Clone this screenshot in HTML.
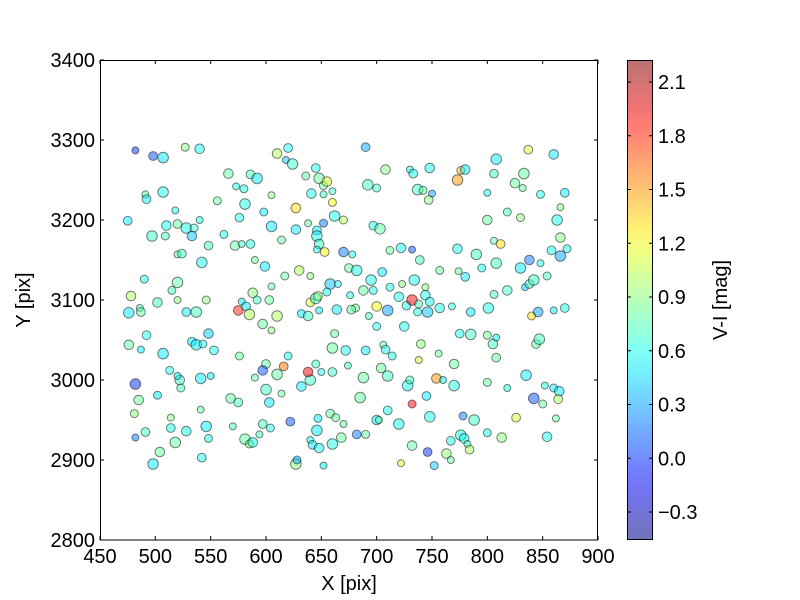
<!DOCTYPE html>
<html><head><meta charset="utf-8"><style>body{margin:0;background:#fff}svg{display:block;font-family:"Liberation Sans",sans-serif}</style></head>
<body><svg id="s" width="800" height="600" xmlns="http://www.w3.org/2000/svg"></svg>
<script>
const P=[[482,3287,0.0],[498,3280,0.1],[507,3278,0.5],[527,3291,0.9],[540,3289,0.6],[491,3232,0.8],[492,3226,0.5],[507,3235,0.6],[556,3224,0.8],[566,3258,0.8],[573,3242,0.6],[586,3257,0.7],[592,3252,0.5],[580,3239,0.6],[610,3283,1.0],[618,3275,0.4],[620,3290,0.6],[624,3270,0.7],[636,3255,0.8],[641,3233,0.6],[652,3232,0.7],[645,3265,0.6],[648,3252,0.8],[652,3243,0.8],[655,3248,1.1],[660,3236,0.7],[690,3291,0.3],[692,3244,0.7],[700,3240,0.7],[708,3263,0.9],[730,3263,0.6],[733,3258,0.6],[737,3238,0.7],[742,3237,0.8],[748,3265,0.6],[750,3233,0.3],[747,3225,0.9],[773,3250,1.5],[776,3262,1.4],[780,3263,0.5],[800,3234,0.6],[806,3258,0.7],[808,3276,0.5],[818,3210,0.7],[825,3246,0.8],[832,3240,0.8],[837,3288,1.1],[833,3258,0.8],[848,3232,0.6],[860,3282,0.5],[866,3216,0.9],[870,3234,0.5],[863,3200,0.6],[660,3222,1.2],[627,3215,1.3],[605,3231,0.9],
[475,3199,0.5],[497,3180,0.7],[509,3180,0.7],[510,3193,0.6],[518,3212,0.6],[520,3195,0.8],[528,3190,0.6],[535,3190,0.7],[533,3180,0.4],[540,3200,0.6],[548,3168,0.7],[542,3147,0.6],[562,3182,0.6],[572,3168,0.8],[578,3170,0.7],[576,3203,0.6],[581,3220,0.6],[598,3210,0.5],[599,3142,0.5],[590,3150,0.8],[586,3170,0.6],[605,3192,0.5],[614,3175,0.8],[627,3188,0.5],[638,3196,0.8],[646,3187,0.5],[646,3180,0.6],[652,3196,0.2],[648,3170,0.7],[646,3163,0.6],[653,3160,1.2],[662,3205,0.6],[670,3200,1.0],[670,3160,0.2],[678,3157,0.6],[697,3193,0.6],[703,3189,0.8],[712,3162,0.8],[722,3165,0.6],[732,3163,0.1],[739,3150,0.7],[734,3125,0.6],[757,3137,0.8],[773,3164,0.6],[774,3136,0.8],[780,3129,0.5],[790,3157,0.7],[795,3140,0.6],[800,3200,0.8],[806,3174,0.8],[812,3170,1.3],[808,3146,0.7],[830,3203,0.9],[838,3150,0.2],[848,3146,0.6],[858,3162,0.6],[866,3155,0.3],[872,3164,0.6],[866,3178,0.9],
[520,3157,0.8],[524,3158,0.7],[520,3122,0.8],[515,3112,0.7],[478,3105,1.0],[486,3090,0.7],[487,3085,0.8],[476,3084,0.5],[490,3126,0.6],[502,3097,0.7],[520,3100,0.9],[528,3085,0.5],[537,3085,0.7],[546,3100,0.9],[575,3087,1.8],[578,3098,0.5],[582,3092,0.5],[585,3082,1.0],[592,3100,0.7],[588,3109,0.9],[605,3117,0.8],[603,3100,0.8],[610,3080,1.0],[617,3130,0.8],[630,3137,1.0],[640,3130,0.9],[640,3097,1.1],[645,3102,0.7],[632,3083,0.5],[638,3080,0.7],[648,3087,0.5],[647,3105,0.9],[658,3120,0.4],[655,3110,0.6],[664,3088,0.5],[665,3120,0.6],[675,3140,0.8],[682,3137,0.6],[681,3090,0.8],[688,3112,0.8],[676,3106,0.6],[677,3088,0.8],[695,3125,0.6],[697,3112,0.6],[700,3092,1.2],[693,3080,0.7],[705,3135,0.5],[710,3087,0.3],[712,3116,0.6],[720,3104,0.6],[723,3120,0.9],[727,3093,0.6],[732,3100,1.9],[738,3095,0.7],[744,3106,0.6],[744,3116,0.9],[748,3098,0.6],[746,3085,0.4],[737,3085,0.6],[757,3090,0.6],[768,3092,0.6],[785,3085,0.5],[801,3090,0.6],[806,3107,0.7],[818,3112,0.7],[834,3116,0.4],[838,3120,0.7],[842,3125,0.7],[840,3080,1.3],[846,3085,0.3],[860,3087,0.5],[870,3090,0.6],[830,3140,0.5],[854,3130,0.7],
[476,3044,0.8],[487,3038,0.5],[492,3056,0.6],[507,3033,0.5],[513,3012,0.6],[522,3000,0.7],[520,3005,0.5],[533,3048,0.5],[537,3044,0.5],[543,3045,0.6],[548,3058,0.4],[550,3005,0.5],[553,3037,0.6],[541,3002,0.5],[576,3030,0.8],[597,3070,0.8],[605,3062,0.9],[600,3020,0.8],[610,3007,0.8],[620,3030,0.6],[597,3012,0.1],[590,3003,0.8],[616,3017,1.6],[640,3000,0.7],[645,3020,0.7],[638,3010,1.9],[650,3010,0.6],[660,3010,0.7],[660,3040,0.8],[662,3058,0.8],[672,3037,0.6],[674,3018,0.7],[690,3037,0.5],[688,3003,0.8],[700,3067,0.6],[704,3015,0.8],[706,3044,0.8],[708,3038,0.6],[710,3005,0.7],[714,3030,0.6],[725,3067,0.6],[738,3025,1.1],[740,3045,0.9],[728,2993,0.6],[730,3000,0.7],[754,3002,1.5],[756,3033,0.8],[775,3058,0.6],[785,3057,0.7],[800,3056,0.8],[805,3045,0.7],[808,3053,0.5],[808,3028,0.8],[835,3006,0.5],[860,2990,0.5],[865,2986,0.5],[852,2993,0.6],[844,3045,0.8],[847,3051,0.7],[800,2997,0.8],[770,3020,0.8],[760,3000,0.5],[745,2980,0.5],
[482,2995,0.0],[481,2958,0.9],[485,2975,0.8],[482,2928,0.2],[491,2935,0.7],[498,2895,0.5],[502,2981,0.5],[504,2910,0.8],[514,2953,0.9],[514,2940,0.6],[518,2922,0.8],[523,2990,0.7],[528,2936,0.6],[541,2963,0.8],[542,2903,0.6],[546,2942,0.5],[548,2927,0.6],[568,2977,0.8],[570,2942,0.7],[575,2972,0.7],[581,2926,0.8],[585,2920,0.9],[588,2922,0.6],[594,2932,0.7],[597,2945,0.7],[600,2988,0.7],[604,2940,0.6],[603,2972,0.5],[614,2983,0.8],[622,2948,0.1],[627,2895,0.9],[628,2900,0.3],[632,2992,0.5],[640,2925,0.6],[642,2919,0.5],[646,2937,0.5],[647,2952,0.5],[648,2915,0.6],[652,2893,0.5],[658,2958,0.8],[660,2920,0.6],[663,2953,0.8],[668,2928,0.8],[670,2945,0.8],[682,2932,0.2],[685,2978,0.8],[690,2932,0.8],[700,2950,0.5],[702,2950,0.8],[710,2962,0.6],[720,2945,0.6],[732,2970,1.9],[732,2918,0.8],[722,2896,1.1],[746,2910,0.0],[748,2954,0.6],[752,2893,0.4],[763,2908,0.9],[767,2900,0.8],[767,2924,0.6],[776,2931,0.6],[778,2955,0.2],[779,2927,0.6],[782,2920,0.7],[784,2913,1.0],[788,2950,0.7],[800,2934,0.6],[813,2928,0.9],[818,2990,0.6],[826,2953,1.1],[842,2977,0.1],[850,2970,0.8],[854,2929,0.6],[862,2952,0.8],[864,2976,1.0],[770,2993,0.6]];
const vmin=-0.456,vmax=2.22;
function cl(x){return Math.max(0,Math.min(1,x))}
function jet(v){const t=(v-vmin)/(vmax-vmin);return `rgb(${Math.round(255*cl(1.5-Math.abs(4*t-3)))},${Math.round(255*cl(1.5-Math.abs(4*t-2)))},${Math.round(255*cl(1.5-Math.abs(4*t-1)))})`}
const X=x=>100+(x-450)*498/450, Y=y=>60+(3400-y)*0.8;
let h='<defs><linearGradient id="g" x1="0" y1="1" x2="0" y2="0">';
for(let i=0;i<=20;i++){h+=`<stop offset="${i/20}" stop-color="${jet(vmin+(vmax-vmin)*i/20)}"/>`}
h+='</linearGradient></defs><rect x="100" y="60" width="498" height="480" fill="#fff"/>';
P.forEach((p,i)=>{const r=3.5+((i*7)%5)*0.45;h+=`<circle cx="${X(p[0]).toFixed(1)}" cy="${Y(p[1]).toFixed(1)}" r="${r.toFixed(1)}" fill="${jet(p[2])}" fill-opacity="0.5" stroke="#000" stroke-opacity="0.5" stroke-width="1"/>`});
h+='<rect x="100.5" y="60.5" width="497" height="479.5" fill="none" stroke="#000" stroke-width="1"/>';
for(let v=450;v<=900;v+=50){const x=X(v);h+=`<line x1="${x}" x2="${x}" y1="540" y2="536" stroke="#000"/><line x1="${x}" x2="${x}" y1="60" y2="64" stroke="#000"/><text x="${x}" y="563" font-size="20" text-anchor="middle">${v}</text>`}
for(let v=2800;v<=3400;v+=100){const y=Y(v);h+=`<line x1="100" x2="104" y1="${y}" y2="${y}" stroke="#000"/><line x1="598" x2="594" y1="${y}" y2="${y}" stroke="#000"/><text x="95" y="${y+7}" font-size="20" text-anchor="end">${v}</text>`}
h+='<text x="349" y="590" font-size="20" text-anchor="middle">X [pix]</text><text transform="translate(30,300) rotate(-90)" font-size="20" text-anchor="middle">Y [pix]</text>';
h+='<rect x="627" y="60" width="26" height="480" fill="url(#g)" fill-opacity="0.55"/><rect x="627.5" y="60.5" width="25" height="479" fill="none" stroke="#000"/>';
for(let k=0;k<=8;k++){const v=2.1-0.3*k,y=82+k*53.75;h+=`<line x1="627" x2="631" y1="${y}" y2="${y}" stroke="#000"/><line x1="653" x2="649" y1="${y}" y2="${y}" stroke="#000"/><text x="658" y="${y+7}" font-size="20">${v<0?'\u2212'+Math.abs(v).toFixed(1):v.toFixed(1)}</text>`}
h+='<text transform="translate(727,300) rotate(-90)" font-size="20" text-anchor="middle">V-I [mag]</text>';
document.getElementById('s').innerHTML=h;
</script></body></html>
